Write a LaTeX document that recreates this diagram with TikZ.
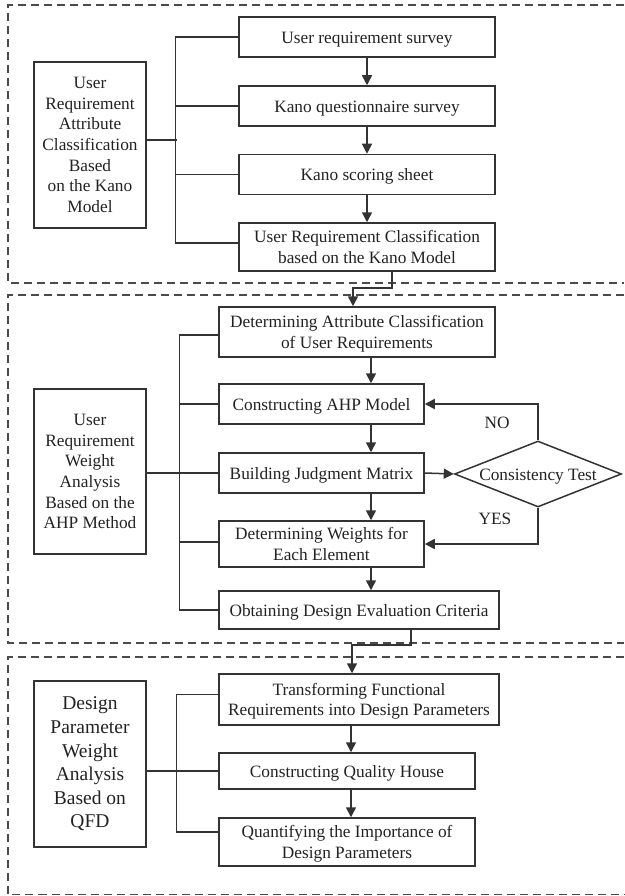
\documentclass[tikz,border=0pt]{standalone}
\usepackage{fontspec}
\setmainfont{Liberation Serif}
\usetikzlibrary{arrows.meta,shapes.geometric,calc}

\definecolor{linec}{HTML}{333333}
\definecolor{dashc}{HTML}{4A4A4A}
\definecolor{txt}{HTML}{222222}

\newcommand\boxfont{\fontsize{17.3}{20.7}\selectfont}
\newcommand\bigboxfont{\fontsize{19.5}{23.6}\selectfont}

\tikzset{
  box/.style={draw=linec, line width=1.5pt, inner sep=0pt, align=center,
              text=txt, font=\boxfont},
  one/.style={text height=15pt, text depth=2pt},
  two/.style={text height=34.7pt, text depth=1.8pt},
  frame/.style={draw=dashc, line width=1.2pt, dash pattern=on 8pt off 5pt},
  link/.style={draw=linec, line width=1.5pt},
  arr/.style={link, -{Triangle[width=10pt,length=10pt]}},
  lbl/.style={text=txt, font=\boxfont, inner sep=0pt},
  dia/.style={diamond, aspect=2.53, draw=linec, line width=1.5pt, inner sep=0pt,
              minimum width=167, minimum height=66, text=txt, font=\boxfont,
              text height=15pt, text depth=2pt},
}

\begin{document}
\begin{tikzpicture}[x=1pt, y=-1pt]
\useasboundingbox (0,0) rectangle (624,896);

% dashed stage frames (open on the right)
\draw[frame] (624,5) -- (8,5) -- (8,283) -- (624,283);
\draw[frame] (624,295) -- (8,295) -- (8,643) -- (624,643);
\draw[frame] (624,657) -- (8,657) -- (8,894.5) -- (624,894.5);

% ---------------- stage 1: Kano model ----------------
\node[box, minimum width=112, minimum height=166] (lb1) at (90,145)
  {User\\Requirement\\Attribute\\Classification\\Based\\on the Kano\\Model};
\node[box, one, minimum width=256, minimum height=40] (k1) at (367,37) {User requirement survey};
\node[box, one, minimum width=256, minimum height=40] (k2) at (367,106) {Kano questionnaire survey};
\node[box, one, minimum width=256, minimum height=40] (k3) at (367,174.5) {Kano scoring sheet};
\node[box, two, minimum width=256, minimum height=48] (k4) at (367,247)
  {User Requirement Classification\\based on the Kano Model};

\draw[link] (k1.west) -- ++(-63,0) |- ($(k4.west)+(0,-4)$);
\draw[link] (k2.west) -- ++(-63,0);
\draw[link] (k3.west) -- ++(-63,0);
\draw[link] ($(lb1.east)+(0,-5)$) -- ++(30,0);

\draw[arr] (k1.south) -- (k2.north);
\draw[arr] (k2.south) -- (k3.north);
\draw[arr] (k3.south) -- (k4.north);

% ---------------- stage 2: AHP method ----------------
\node[box, minimum width=112, minimum height=165] (lb2) at (90,471.5)
  {User\\Requirement\\Weight\\Analysis\\Based on the\\AHP Method};
\node[box, two, minimum width=276, minimum height=50] (a1) at (357,332)
  {Determining Attribute Classification\\of User Requirements};
\node[box, one, minimum width=205, minimum height=40] (a2) at (321.5,404) {Constructing AHP Model};
\node[box, one, minimum width=205, minimum height=40] (a3) at (321.5,473) {Building Judgment Matrix};
\node[box, two, minimum width=205, minimum height=46] (a4) at (321.5,544)
  {Determining Weights for\\Each Element};
\node[box, one, minimum width=280, minimum height=38] (a5) at (359,610)
  {Obtaining Design Evaluation Criteria};
\node[dia] (ct) at (538,474) {Consistency Test};
\node[lbl] (no) at (497,423) {NO};
\node[lbl] (yes) at (495,519) {YES};

\draw[link] ($(a1.west)+(0,3)$) -- ++(-39,0) |- (a5.west);
\draw[link] (a2.west) -- ++(-39,0);
\draw[link] ($(a4.west)+(0,-2)$) -- ++(-39,0);
\draw[link] (lb2.east |- a3.west) -- (a3.west);

\coordinate (ax) at (371,0);
\draw[arr] (a1.south -| ax) -- (a2.north -| ax);
\draw[arr] (a2.south -| ax) -- (a3.north -| ax);
\draw[arr] (a3.south -| ax) -- (a4.north -| ax);
\draw[arr] (a4.south -| ax) -- (a5.north -| ax);

\draw[arr] (a3.east) -- (ct.west);
\draw[arr] (ct.north) |- (a2.east);
\draw[arr] (ct.south) |- (a4.east);

% ---------------- stage 3: QFD ----------------
\node[box, minimum width=112, minimum height=166, font=\bigboxfont] (lb3) at (90,764)
  {Design\\Parameter\\Weight\\Analysis\\Based on\\QFD};
\node[box, two, minimum width=280, minimum height=51] (c1) at (359,699.5)
  {Transforming Functional\\Requirements into Design Parameters};
\node[box, one, minimum width=256, minimum height=36] (c2) at (347,771) {Constructing Quality House};
\node[box, two, minimum width=256, minimum height=48] (c3) at (347,842)
  {Quantifying the Importance of\\Design Parameters};

\draw[link] ($(c1.west)+(0,-5)$) -- ++(-42,0) |- ($(c3.west)+(0,-10)$);
\draw[link] (lb3.east |- c2.west) -- (c2.west);

\coordinate (cx) at (351,0);
\draw[arr] (c1.south -| cx) -- (c2.north -| cx);
\draw[arr] (c2.south -| cx) -- (c3.north -| cx);

% ---------------- links between stages ----------------
\coordinate (e1) at (392,288);
\coordinate (e1b) at (353,288);
\draw[arr] (k4.south -| e1) -- (e1) -- (e1b) -- (a1.north -| e1b);

\coordinate (e2) at (411,645);
\coordinate (e2b) at (352,645);
\draw[arr] (a5.south -| e2) -- (e2) -- (e2b) -- (c1.north -| e2b);
\end{tikzpicture}
\end{document}
